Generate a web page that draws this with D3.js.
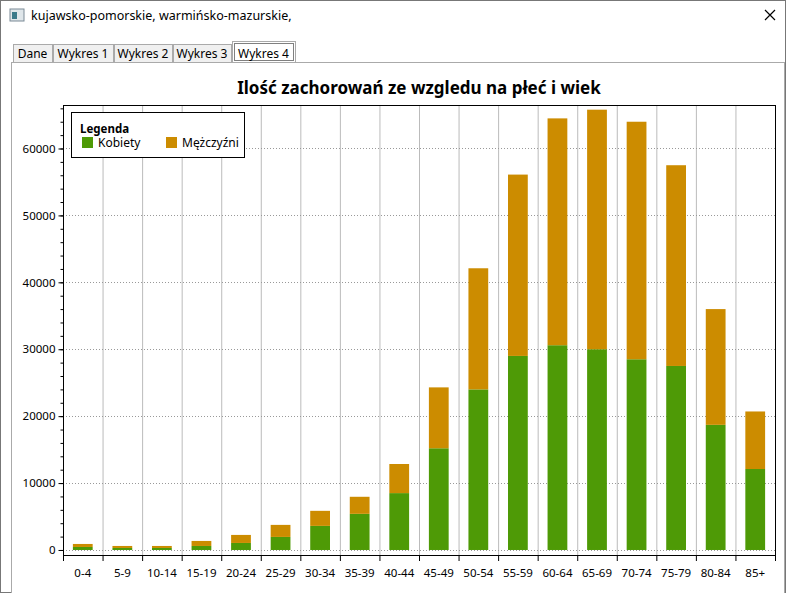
<!DOCTYPE html>
<html><head><meta charset="utf-8">
<script src="https://cdn.jsdelivr.net/npm/d3@7"></script>
<style>body{margin:0;background:#fff;font-family:"Segoe UI","Noto Sans","DejaVu Sans",sans-serif}</style>
</head><body><svg id="c" width="786" height="593"></svg>
<script>
const categories=["0-4","5-9","10-14","15-19","20-24","25-29","30-34","35-39","40-44","45-49","50-54","55-59","60-64","65-69","70-74","75-79","80-84","85+"];
const kobiety=[450,300,300,600,1050,1950,3600,5400,8500,15200,24000,29000,30600,30000,28500,27500,18700,12100];
const mezczyzni=[450,300,300,750,1200,1800,2250,2550,4350,9100,18100,27100,33900,35800,35500,30000,17300,8600];
const yTicks=[0,10000,20000,30000,40000,50000,60000];
const svg=d3.select("#c");
const F="'Segoe UI','Noto Sans','DejaVu Sans',sans-serif";
// window chrome
svg.append("rect").attr("x",0.5).attr("y",0.5).attr("width",785).attr("height",592).attr("fill","#fff").attr("stroke","#777");
svg.append("rect").attr("x",10).attr("y",9).attr("width",14).attr("height",12).attr("fill","#dfe6ea").attr("stroke","#7a8a96");
svg.append("rect").attr("x",12).attr("y",12).attr("width",5).attr("height",7).attr("fill","#3a7a8a");
svg.append("text").attr("x",31).attr("y",20).attr("font-size",12.5).attr("font-family",F).text("kujawsko-pomorskie, warmińsko-mazurskie,");
svg.append("path").attr("d","M765,10L775,20M775,10L765,20").attr("stroke","#000").attr("stroke-width",1.2);
// tab panel
svg.append("rect").attr("x",11.5).attr("y",62.5).attr("width",773).attr("height",540).attr("fill","#fff").attr("stroke","#aaa");
const tabs=[["Dane",13,52],["Wykres 1",53,113],["Wykres 2",114,172],["Wykres 3",173,231],["Wykres 4",232,295]];
tabs.forEach((t,i)=>{const sel=i===4;
 svg.append("rect").attr("x",t[1]+.5).attr("y",sel?41.5:44.5).attr("width",t[2]-t[1]).attr("height",sel?21:18)
  .attr("fill",sel?"#fff":"#f0f0f0").attr("stroke","#aaa");
 if(sel) svg.append("rect").attr("x",t[1]+2.5).attr("y",43.5).attr("width",t[2]-t[1]-4).attr("height",17).attr("fill","none").attr("stroke","#000").attr("stroke-dasharray","1,1");
 svg.append("text").attr("x",(t[1]+t[2])/2).attr("y",58).attr("text-anchor","middle").attr("font-size",12).attr("font-family",F).text(t[0]);
});
// chart
const L=63,R=775,T=105,B=555;
const x=d3.scaleBand().domain(categories).range([L,R]).paddingInner(0.5).paddingOuter(0.25);
const xb=d3.scaleBand().domain(categories).range([L,R]);
const y=d3.scaleLinear().domain([-750,66500]).range([B,T]);
svg.append("text").attr("x",(L+R)/2).attr("y",94).attr("text-anchor","middle").attr("font-size",17).attr("font-weight","bold").attr("font-family",F).text("Ilość zachorowań ze wzgledu na płeć i wiek");
const g=svg.append("g");
categories.slice(1).forEach(c=>g.append("line").attr("x1",xb(c)+.5).attr("x2",xb(c)+.5).attr("y1",T).attr("y2",B).attr("stroke","#bbb"));
yTicks.forEach(v=>g.append("line").attr("x1",L).attr("x2",R).attr("y1",Math.round(y(v))+.5).attr("y2",Math.round(y(v))+.5).attr("stroke","#999").attr("stroke-dasharray","1,2"));
const st=d3.stack().keys(["k","m"])(categories.map((c,i)=>({c,k:kobiety[i],m:mezczyzni[i]})));
const cols=["#4e9a06","#cc8c00"];
st.forEach((s,j)=>g.selectAll(null).data(s).join("rect").attr("x",(d,i)=>x(categories[i])).attr("width",x.bandwidth())
 .attr("y",d=>y(d[1])).attr("height",d=>y(d[0])-y(d[1])).attr("fill",cols[j]));
svg.append("rect").attr("x",L+.5).attr("y",T+.5).attr("width",R-L).attr("height",B-T).attr("fill","none").attr("stroke","#000");
// y axis
const ya=svg.append("g").attr("transform",`translate(${L+.5},0)`).call(d3.axisLeft(y).tickValues(yTicks).tickSize(5).tickFormat(d3.format("d")));
svg.append("g").attr("transform",`translate(${L+.5},0)`).call(d3.axisLeft(y).tickValues(d3.range(0,66001,2000)).tickSize(3).tickFormat(""));
// x axis
const xa=svg.append("g").attr("transform",`translate(0,${B+.5})`).call(d3.axisBottom(xb).tickSize(0));
svg.selectAll(".domain").remove();
xa.selectAll("text").attr("dy","1.6em");
d3.range(0,19).forEach(i=>svg.append("line").attr("x1",L+i*xb.step()+.5).attr("x2",L+i*xb.step()+.5).attr("y1",B).attr("y2",B+6).attr("stroke","#000"));
svg.selectAll(".tick text").attr("font-size",11.5).attr("font-family",F).attr("fill","#000");
// legend
const lg=svg.append("g");
lg.append("rect").attr("x",71.5).attr("y",112.5).attr("width",173).attr("height",45).attr("fill","#fff").attr("stroke","#000");
lg.append("text").attr("x",80).attr("y",133).attr("font-size",11.5).attr("font-weight","bold").attr("font-family",F).text("Legenda");
[["Kobiety",82],["Mężczyźni",166]].forEach((d,i)=>{
 lg.append("rect").attr("x",d[1]).attr("y",137).attr("width",11).attr("height",11).attr("fill",cols[i]);
 lg.append("text").attr("x",d[1]+16).attr("y",147).attr("font-size",12).attr("font-family",F).text(d[0]);
});
</script></body></html>
